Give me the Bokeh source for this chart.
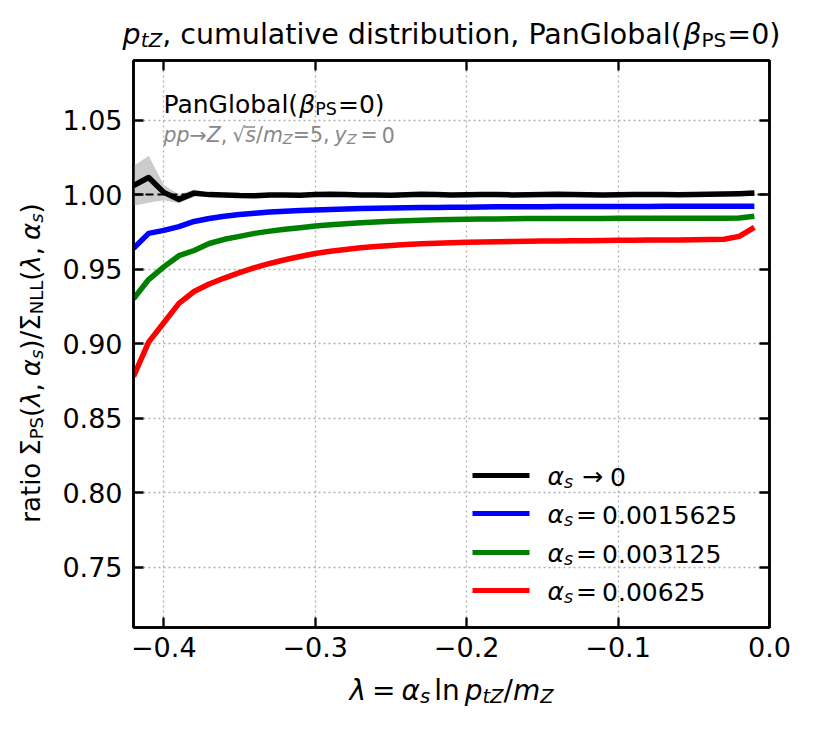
from bokeh.plotting import figure
from bokeh.layouts import column, row
from bokeh.models import (Range1d, LinearAxis, FixedTicker, CustomJSTickFormatter,
                          Label, BoxAnnotation)
from bokeh.embed import file_html
from bokeh.resources import INLINE
import math

# ---------------- data ----------------
lam = [-0.42, -0.41, -0.40, -0.39, -0.38, -0.37, -0.36, -0.35, -0.34, -0.33,
       -0.32, -0.31, -0.30, -0.29, -0.28, -0.27, -0.26, -0.25, -0.24, -0.23,
       -0.22, -0.21, -0.20, -0.19, -0.18, -0.17, -0.16, -0.15, -0.14, -0.13,
       -0.12, -0.11, -0.10, -0.09, -0.08, -0.07, -0.06, -0.05, -0.04, -0.03,
       -0.02, -0.01]

ratio_as0 = [1.0060, 1.0115, 1.0015, 0.9968, 1.0010, 1.0000, 0.9998, 0.9994, 0.9993, 0.9998,
             0.9998, 0.9996, 1.0000, 1.0002, 1.0001, 0.9998, 0.9997, 0.9996, 0.9999, 1.0003,
             1.0001, 0.9998, 0.9999, 1.0001, 1.0000, 0.9998, 0.9999, 1.0000, 1.0002, 1.0001,
             0.9999, 0.9998, 0.9999, 1.0000, 1.0001, 1.0000, 0.9999, 1.0001, 1.0003, 1.0004,
             1.0006, 1.0010]
band_lo = [0.9925, 0.9945, 0.9962, 0.9942, 0.9985, 0.9988, 0.9989, 0.9985, 0.9984, 0.9990,
           0.9990, 0.9988, 0.9992, 0.9994, 0.9993, 0.9990, 0.9990, 0.9989, 0.9992, 0.9996,
           0.9994, 0.9991, 0.9992, 0.9994, 0.9993, 0.9991, 0.9992, 0.9993, 0.9995, 0.9994,
           0.9992, 0.9991, 0.9992, 0.9993, 0.9994, 0.9993, 0.9992, 0.9994, 0.9996, 0.9997,
           0.9999, 1.0003]
band_hi = [1.0190, 1.0260, 1.0065, 1.0000, 1.0035, 1.0013, 1.0007, 1.0003, 1.0002, 1.0006,
           1.0006, 1.0004, 1.0008, 1.0010, 1.0009, 1.0006, 1.0005, 1.0004, 1.0007, 1.0011,
           1.0009, 1.0006, 1.0007, 1.0009, 1.0008, 1.0006, 1.0007, 1.0008, 1.0010, 1.0009,
           1.0007, 1.0006, 1.0007, 1.0008, 1.0009, 1.0008, 1.0007, 1.0009, 1.0011, 1.0012,
           1.0014, 1.0018]
ratio_a1 = [0.9640, 0.9740, 0.9760, 0.9785, 0.9820, 0.9840, 0.9855, 0.9866, 0.9875, 0.9883,
            0.9888, 0.9893, 0.9897, 0.9900, 0.9903, 0.9906, 0.9908, 0.9910, 0.9912, 0.9913,
            0.9914, 0.9915, 0.9916, 0.9917, 0.9918, 0.9918, 0.9919, 0.9919, 0.9920, 0.9920,
            0.9920, 0.9921, 0.9921, 0.9921, 0.9921, 0.9922, 0.9922, 0.9922, 0.9922, 0.9922,
            0.9922, 0.9922]
ratio_a2 = [0.9300, 0.9430, 0.9515, 0.9590, 0.9625, 0.9672, 0.9700, 0.9720, 0.9740, 0.9755,
            0.9768, 0.9778, 0.9790, 0.9798, 0.9805, 0.9811, 0.9816, 0.9821, 0.9825, 0.9828,
            0.9831, 0.9833, 0.9835, 0.9836, 0.9837, 0.9838, 0.9839, 0.9839, 0.9840, 0.9840,
            0.9840, 0.9840, 0.9841, 0.9841, 0.9841, 0.9841, 0.9841, 0.9841, 0.9841, 0.9841,
            0.9843, 0.9855]
ratio_a3 = [0.8780, 0.9010, 0.9140, 0.9270, 0.9350, 0.9400, 0.9440, 0.9477, 0.9510, 0.9538,
            0.9563, 0.9585, 0.9605, 0.9620, 0.9632, 0.9643, 0.9652, 0.9659, 0.9665, 0.9670,
            0.9674, 0.9677, 0.9680, 0.9682, 0.9684, 0.9686, 0.9687, 0.9688, 0.9689, 0.9690,
            0.9691, 0.9692, 0.9693, 0.9694, 0.9695, 0.9695, 0.9696, 0.9697, 0.9698, 0.9700,
            0.9720, 0.9780]

x_ticks = [-0.4, -0.3, -0.2, -0.1, 0.0]
y_ticks = [0.75, 0.80, 0.85, 0.90, 0.95, 1.00, 1.05]
ref_level = [1.0]
legend_values = ["0", "0.0015625", "0.003125", "0.00625"]
legend_ops = ["→", "=", "=", "="]
series = [ratio_as0, ratio_a1, ratio_a2, ratio_a3]
colors = ["#000000", "#0000ff", "#008000", "#ff0000"]

FONT = "DejaVu Sans"

# ---------------- main figure ----------------
p = figure(width=773, height=618, output_backend="svg", toolbar_location=None,
           x_range=Range1d(-0.42, 0.0), y_range=Range1d(0.7095, 1.09),
           min_border_left=75, min_border_right=62, min_border_top=6,
           min_border_bottom=45, x_axis_location=None, y_axis_location=None)
p.background_fill_color = "white"
p.border_fill_color = "white"
p.outline_line_color = "black"
p.outline_line_width = 2.5

fmt_x = CustomJSTickFormatter(code="return tick.toFixed(1).replace('-', '\u2212');")
fmt_y = CustomJSTickFormatter(code="return tick.toFixed(2);")
fmt_none = CustomJSTickFormatter(code="return '';")


def style_axis(ax, labels=True):
    ax.axis_line_width = 2.5
    ax.axis_line_color = "black"
    ax.major_tick_in = 10
    ax.major_tick_out = 0
    ax.major_tick_line_width = 2.3
    ax.minor_tick_line_color = None
    ax.major_label_text_font = FONT
    ax.major_label_text_font_size = "27px" if labels else "0px"
    ax.major_label_text_color = "black"
    if not labels:
        ax.major_label_standoff = 0


bottom = LinearAxis(ticker=FixedTicker(ticks=x_ticks), formatter=fmt_x)
style_axis(bottom)
bottom.major_label_standoff = 9
p.add_layout(bottom, "below")
top = LinearAxis(ticker=FixedTicker(ticks=x_ticks), formatter=fmt_none)
style_axis(top, labels=False)
p.add_layout(top, "above")
left = LinearAxis(ticker=FixedTicker(ticks=y_ticks), formatter=fmt_y)
style_axis(left)
left.major_label_standoff = 11
p.add_layout(left, "left")
right = LinearAxis(ticker=FixedTicker(ticks=y_ticks), formatter=fmt_none)
style_axis(right, labels=False)
p.add_layout(right, "right")

p.xgrid.ticker = FixedTicker(ticks=x_ticks)
p.ygrid.ticker = FixedTicker(ticks=y_ticks)
for g in (p.xgrid, p.ygrid):
    g.grid_line_color = "#b0b0b0"
    g.grid_line_dash = "2 3"
    g.grid_line_width = 1.3

p.varea(x=lam, y1=band_lo, y2=band_hi, fill_color="#cccccc", fill_alpha=1.0)
p.hspan(y=ref_level, line_color="black", line_width=2, line_dash="8 4")
for ys, c in zip(series, colors):
    p.line(x=lam, y=ys, line_color=c, line_width=5.5, line_join="round")


# ---------------- text figures ----------------
def text_fig(w, h):
    f = figure(width=w, height=h, output_backend="svg", toolbar_location=None,
               x_range=Range1d(0, 1), y_range=Range1d(0, 1),
               min_border_left=0, min_border_right=0, min_border_top=0,
               min_border_bottom=0, x_axis_location=None, y_axis_location=None)
    f.outline_line_color = None
    f.xgrid.visible = False
    f.ygrid.visible = False
    f.background_fill_color = "white"
    f.border_fill_color = "white"
    return f


fig_title = text_fig(831, 54)
fig_ylab = text_fig(58, 618)
fig_xlab = text_fig(831, 50)

# ---------------- rich text helper ----------------
W = {' ': .318, '(': .390, ')': .390, ',': .318, '.': .318, '/': .337, '=': .838,
     'P': .603, 'G': .775, 'S': .635, 'N': .748, 'L': .557, 'Z': .685,
     'a': .613, 'b': .635, 'c': .550, 'd': .635, 'e': .615, 'i': .278, 'l': .278,
     'm': .974, 'n': .634, 'o': .612, 'p': .635, 'r': .411, 's': .521, 't': .392,
     'u': .634, 'v': .592, 'y': .592, 'z': .525,
     'α': .660, 'β': .640, 'λ': .592, 'Σ': .632, '→': .838, '√': .636, '−': .838}
for d in "0123456789":
    W[d] = .636

FIX = 8  # measured vertical offset of the rendered baseline


def tw(s, size):
    return sum(W.get(ch, 0.62) for ch in s) * size


def rich(fig, runs, x, y, anchor="left", angle=0.0):
    # runs: (text, size, italic, dy, color, pad_before); x, y: px from frame bottom-left
    # returns the start offsets of the runs
    total = sum(tw(r[0], r[1]) + r[5] for r in runs)
    pos = -total / 2 if anchor == "center" else 0.0
    starts = []
    for text, size, italic, dy, color, pad in runs:
        pos += pad
        starts.append(x + pos)
        if angle == 0.0:
            lx, ly = x + pos, y + dy + FIX
        else:
            lx, ly = x - dy, y + pos
        fig.add_layout(Label(x=lx, y=ly, x_units="screen", y_units="screen", text=text,
                             text_font=FONT, text_font_size=f"{size}px",
                             text_font_style="italic" if italic else "normal",
                             text_color=color, text_align="left",
                             text_baseline="alphabetic", angle=angle))
        pos += tw(text, size)
    return starts


K = "black"
G = "#888888"

T, TS = 28.5, 20
rich(fig_title, [("p", T, True, 0, K, 0), ("tZ", TS, True, -5.5, K, 0),
                 (", cumulative distribution, PanGlobal(", T, False, 0, K, 0),
                 ("β", T, True, 0, K, 0), ("PS", TS, False, -5.5, K, 0),
                 ("=0)", T, False, 0, K, 1)],
     451, 12, anchor="center")

A, AS = 28, 19.5
rich(fig_xlab, [("λ", A, True, 0, K, 0), ("=", A, False, 0, K, 6), ("α", A, True, 0, K, 6),
                ("s", AS, True, -5.5, K, 0), ("ln", A, False, 0, K, 4), ("p", A, True, 0, K, 5),
                ("tZ", AS, True, -5.5, K, 0), ("/", A, False, 0, K, 0), ("m", A, True, 0, K, 0),
                ("Z", AS, True, -5.5, K, 0)],
     451, 24, anchor="center")

YA, YS = 26, 18
rich(fig_ylab, [("ratio", YA, False, 0, K, 0), ("Σ", YA, False, 0, K, 7),
                ("PS", YS, False, -5.5, K, 0),
                ("(", YA, False, 0, K, 0), ("λ", YA, True, 0, K, 0), (",", YA, False, 0, K, 0),
                ("α", YA, True, 0, K, 7), ("s", YS, True, -5.5, K, 0), (")/Σ", YA, False, 0, K, 0),
                ("NLL", YS, False, -5.5, K, 0), ("(", YA, False, 0, K, 0), ("λ", YA, True, 0, K, 0),
                (",", YA, False, 0, K, 0), ("α", YA, True, 0, K, 7), ("s", YS, True, -5.5, K, 0),
                (")", YA, False, 0, K, 0)],
     30, 264.5, anchor="center", angle=math.pi / 2)

# in-plot labels (main frame: 636 x 567)
rich(p, [("PanGlobal(", 25, False, 0, K, 0), ("β", 25, True, 0, K, 0),
         ("PS", 17.5, False, -5, K, 0), ("=0)", 25, False, 0, K, 1)], 30, 515.5)
s1, s2 = 20.5, 14.5
sub_base = 484.5
st = rich(p, [("pp", s1, True, 0, G, 0), ("→", s1, False, 0, G, 0), ("Z", s1, True, 0, G, 0),
              (",", s1, False, 0, G, 0), ("√", s1, False, 0, G, 5), ("s", s1, True, 0, G, 0),
              ("/", s1, False, 0, G, 0), ("m", s1, True, 0, G, 0), ("Z", s2, True, -4, G, 0),
              ("=5,", s1, False, 0, G, 0), ("y", s1, True, 0, G, 5), ("Z", s2, True, -4, G, 0),
              ("=", s1, False, 0, G, 4), ("0", s1, False, 0, G, 4)], 30, sub_base)
# vinculum of the square root over "s"
p.add_layout(BoxAnnotation(left=st[5] - 1, right=st[6] - 1,
                           bottom=sub_base + 0.78 * s1 - 0.7, top=sub_base + 0.78 * s1 + 0.7,
                           left_units="screen", right_units="screen",
                           bottom_units="screen", top_units="screen",
                           fill_color=G, fill_alpha=1.0, line_color=None))

leg_y = [152, 114, 75, 37]
LS, LSS = 25, 17.5
for yc, op, val, c in zip(leg_y, legend_ops, legend_values, colors):
    p.add_layout(BoxAnnotation(left=339, right=396, bottom=yc - 2.5, top=yc + 2.5,
                               left_units="screen", right_units="screen",
                               bottom_units="screen", top_units="screen",
                               fill_color=c, fill_alpha=1.0, line_color=None))
    gap1, gap2 = (9, 7) if op == "→" else (3, 5)
    rich(p, [("α", LS, True, 0, K, 0), ("s", LSS, True, -5, K, 0),
             (op, LS, False, 0, K, gap1), (val, LS, False, 0, K, gap2)], 414, yc - 9)

layout = column(fig_title, row(fig_ylab, p), fig_xlab)
open("out.html", "w").write(file_html(layout, INLINE))
